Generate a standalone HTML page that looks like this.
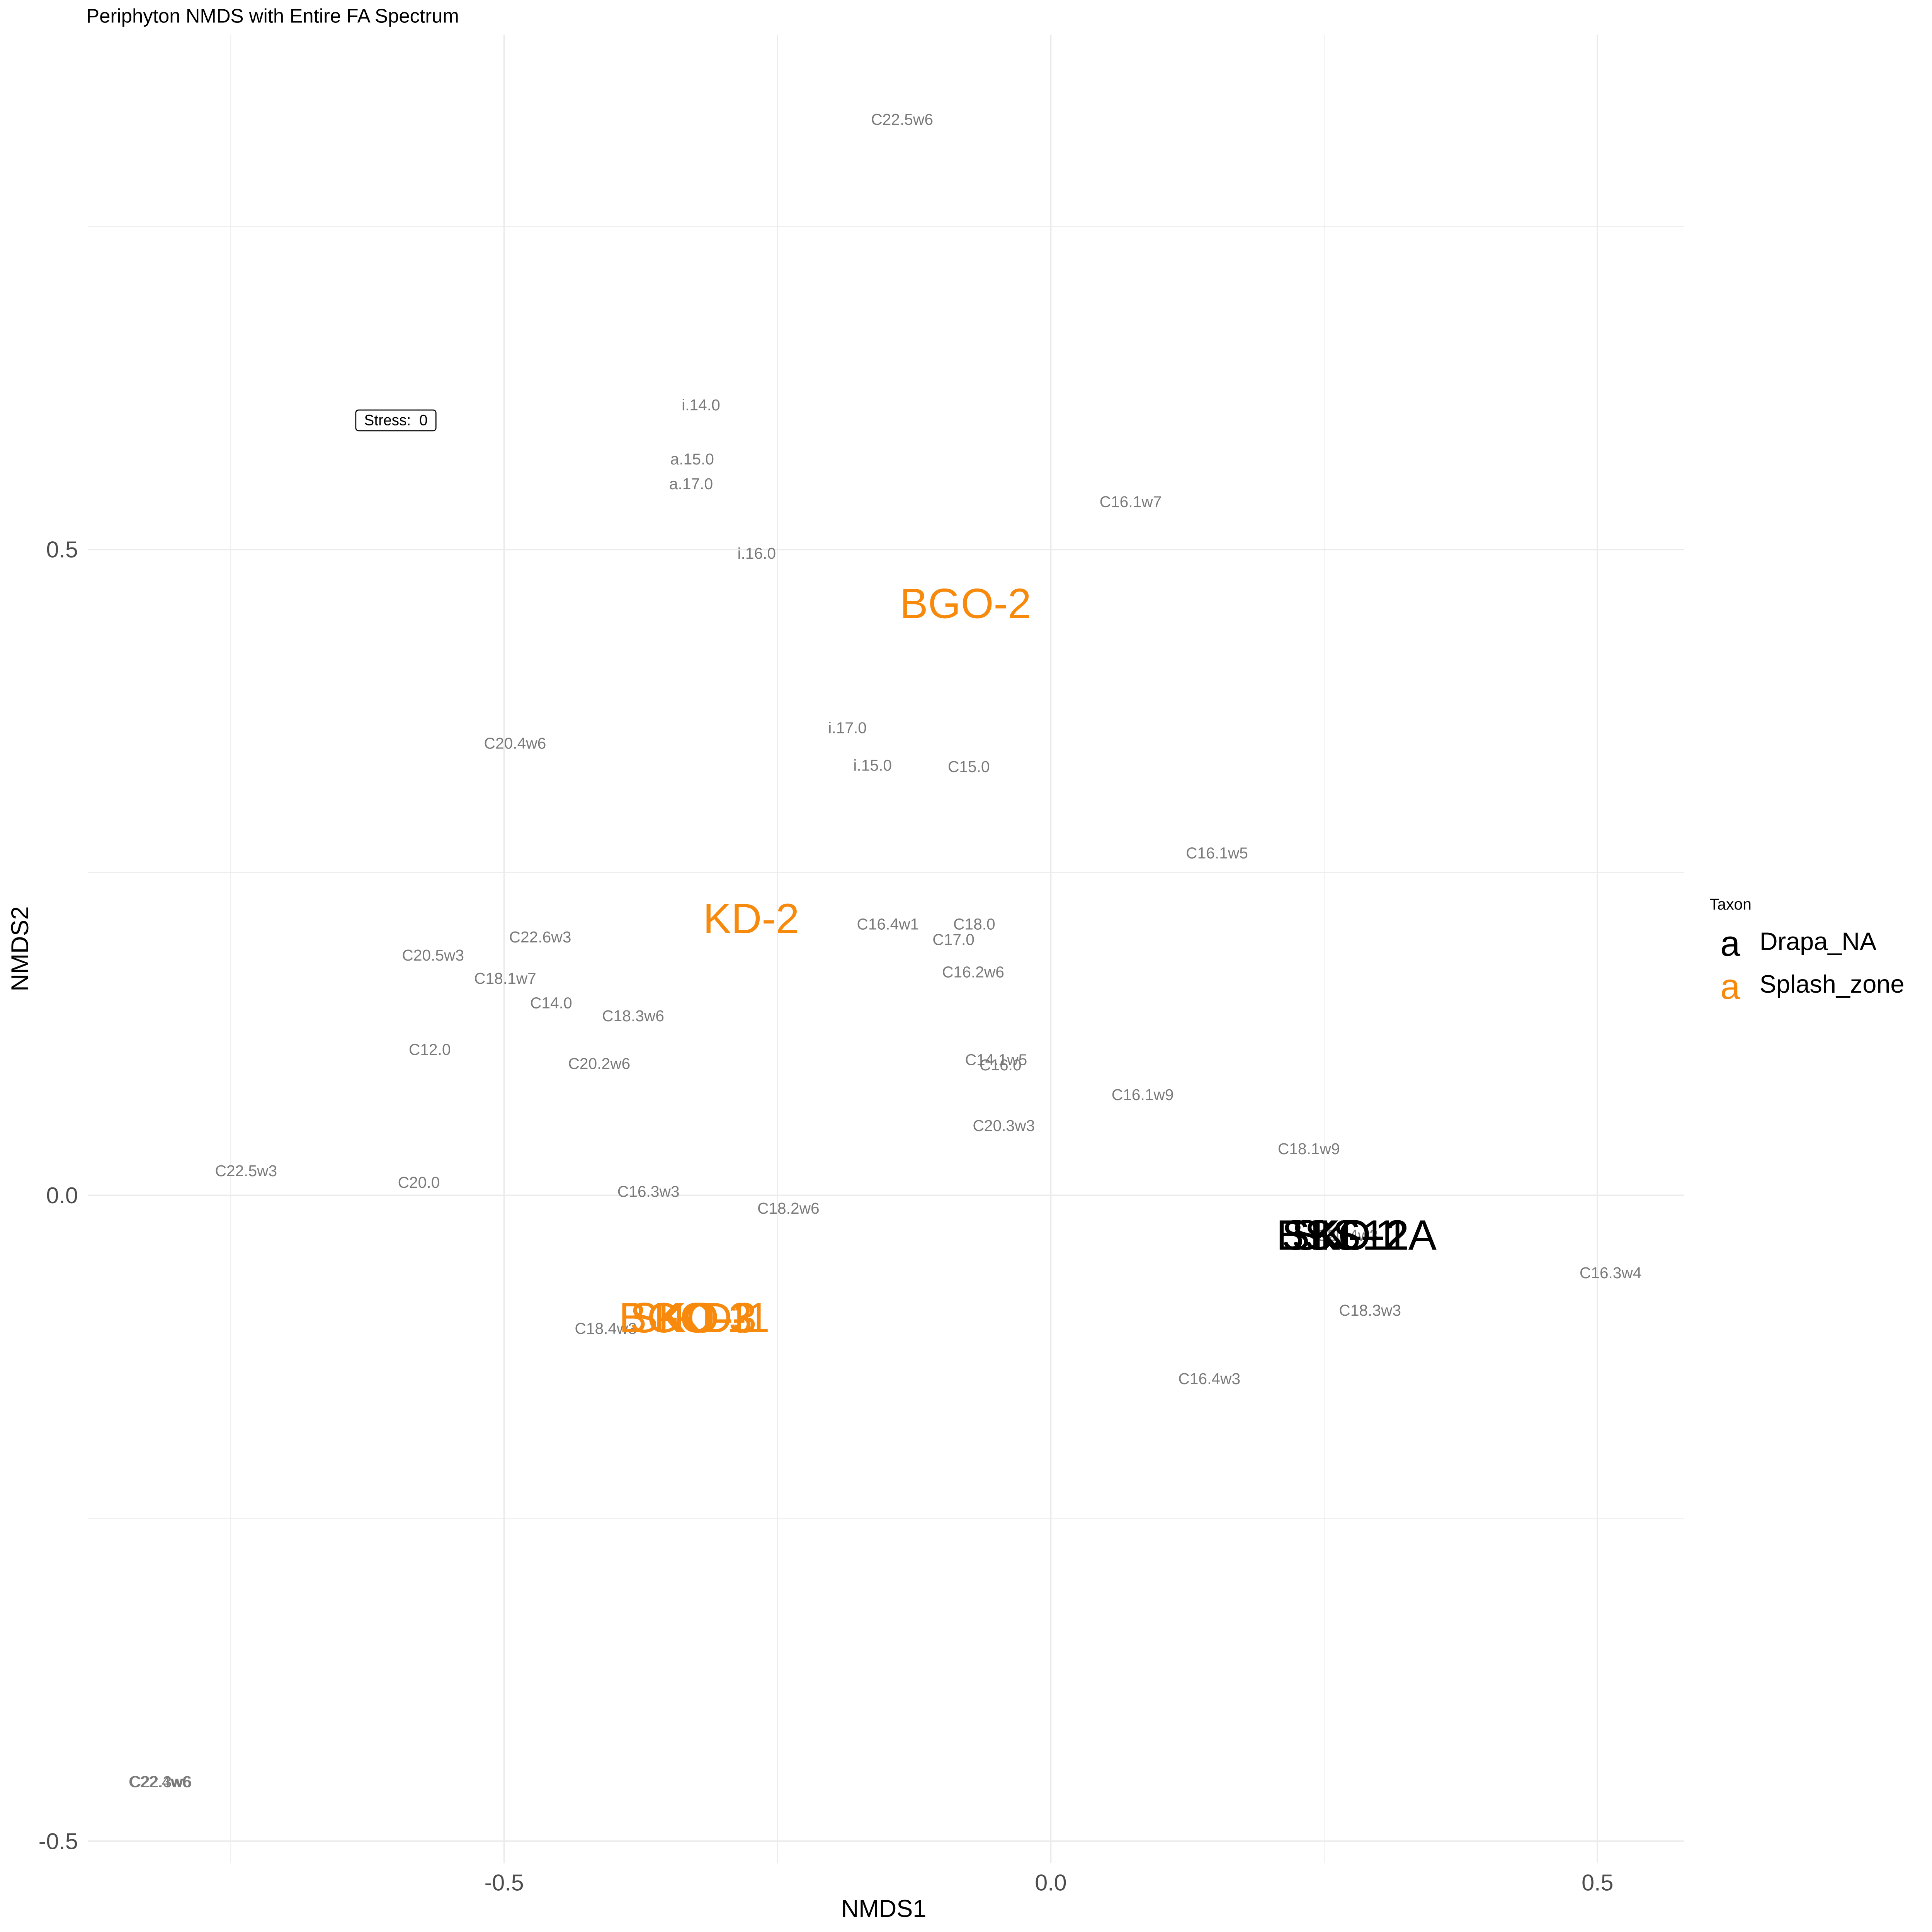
<!DOCTYPE html>
<html><head><meta charset="utf-8"><style>
html,body{margin:0;padding:0;background:#fff;overflow:hidden;width:100%;height:100%;}
svg{display:block;width:100vw;height:100vh;font-family:"Liberation Sans",Arial,sans-serif;}
</style></head><body>
<svg id="chart" viewBox="0 0 5400 5400" preserveAspectRatio="none" xmlns="http://www.w3.org/2000/svg">
<rect width="5400" height="5400" fill="#fff"/>
<text x="241" y="63" font-size="55" fill="#000">Periphyton NMDS with Entire FA Spectrum</text>
<g id="grid"></g>
<g id="ticks"></g>
<g id="fa"></g>
<g id="samples"></g>
<text x="2470" y="5335" font-size="68" text-anchor="middle" dominant-baseline="central" fill="#000">NMDS1</text>
<text transform="translate(56,2652) rotate(-90)" font-size="68" text-anchor="middle" dominant-baseline="central" fill="#000">NMDS2</text>
<g>
<text x="4778" y="2527" font-size="44" dominant-baseline="central" fill="#000">Taxon</text>
<text x="4836" y="2637" font-size="100" text-anchor="middle" dominant-baseline="central" fill="#000">a</text>
<text x="4918" y="2631" font-size="70" dominant-baseline="central" fill="#000">Drapa_NA</text>
<text x="4836" y="2757" font-size="100" text-anchor="middle" dominant-baseline="central" fill="#F7890D">a</text>
<text x="4918" y="2750" font-size="70" dominant-baseline="central" fill="#000">Splash_zone</text>
</g>
</svg>
<script>
const faNames = ["C22.5w6","i.14.0","a.15.0","a.17.0","C16.1w7","i.16.0","i.17.0","C20.4w6","i.15.0","C15.0","C16.1w5","C16.4w1","C18.0","C17.0","C22.6w3","C20.5w3","C18.1w7","C16.2w6","C14.0","C18.3w6","C12.0","C14.1w5","C16.0","C20.2w6","C16.1w9","C20.3w3","C18.1w9","C22.5w3","C20.0","C16.3w3","C18.2w6","C16.3w4","C18.3w3","C18.4w3","C16.4w3","C22.4w6","C22.3w6","C20.4w3"];
const faX = [-0.136,-0.320,-0.328,-0.329,0.073,-0.269,-0.186,-0.490,-0.163,-0.075,0.152,-0.149,-0.070,-0.089,-0.467,-0.565,-0.499,-0.071,-0.457,-0.382,-0.568,-0.050,-0.046,-0.413,0.084,-0.043,0.236,-0.736,-0.578,-0.368,-0.240,0.512,0.292,-0.407,0.145,-0.815,-0.814,0.271];
const faY = [0.833,0.612,0.570,0.551,0.537,0.497,0.362,0.350,0.333,0.332,0.265,0.210,0.210,0.198,0.200,0.186,0.168,0.173,0.149,0.139,0.113,0.105,0.101,0.102,0.078,0.054,0.036,0.019,0.010,0.003,-0.010,-0.060,-0.089,-0.103,-0.142,-0.454,-0.454,-0.031];
const sampleNames = ["BGO-2","KD-2","BGO-1","SKO-3","KO-3","KD-1","BSS-1","SK-12","SKO-2A","KD-1A"];
const sampleX = [-0.078,-0.274,-0.335,-0.327,-0.318,-0.301,0.262,0.274,0.282,0.296];
const sampleY = [0.458,0.214,-0.095,-0.095,-0.095,-0.095,-0.031,-0.031,-0.031,-0.031];
const sampleGroup = ["Splash_zone","Splash_zone","Splash_zone","Splash_zone","Splash_zone","Splash_zone","Drapa_NA","Drapa_NA","Drapa_NA","Drapa_NA"];
const xMajor = [-0.5,0,0.5];
const xMinor = [-0.75,-0.25,0.25];
const yMajor = [-0.5,0,0.5];
const yMinor = [-0.25,0.25,0.75];
const xTickLabels = ["-0.5","0.0","0.5"];
const yTickLabels = ["-0.5","0.0","0.5"];
const stressLabel = "Stress:\u00a0\u00a00";
const stressX = -0.599, stressY = 0.600;

const NS = "http://www.w3.org/2000/svg";
const L = 246, R = 4706, T = 97, B = 5208;
function sx(v){ return 2937 + v*3056; }
function sy(v){ return 3341 - v*3610; }
function mk(tag, parent, attrs){ const e = document.createElementNS(NS, tag); for (const k in attrs) e.setAttribute(k, attrs[k]); parent.appendChild(e); return e; }

const grid = document.getElementById('grid');
xMinor.forEach(v => { const l = mk('line', grid, {x1:sx(v),x2:sx(v),y1:T,y2:B,stroke:'#ebebeb','stroke-width':2});
  
   });
yMinor.forEach(v => { const l = mk('line', grid, {x1:L,x2:R,y1:sy(v),y2:sy(v),stroke:'#ebebeb','stroke-width':2});
  
   });
xMajor.forEach(v => { const l = mk('line', grid, {x1:sx(v),x2:sx(v),y1:T,y2:B,stroke:'#ebebeb','stroke-width':4});
  
   });
yMajor.forEach(v => { const l = mk('line', grid, {x1:L,x2:R,y1:sy(v),y2:sy(v),stroke:'#ebebeb','stroke-width':4});
  
   });

const ticks = document.getElementById('ticks');
xMajor.forEach((v,i) => { const t = mk('text', ticks, {x:sx(v), y:5262, 'font-size':64, 'text-anchor':'middle', 'dominant-baseline':'central', fill:'#4d4d4d'});
  t.textContent = xTickLabels[i];
  
   });
yMajor.forEach((v,i) => { const t = mk('text', ticks, {x:218, y:sy(v), 'font-size':64, 'text-anchor':'end', 'dominant-baseline':'central', fill:'#4d4d4d'});
  t.textContent = yTickLabels[i];
  
   });

const fa = document.getElementById('fa');
faNames.forEach((n,i) => { const t = mk('text', fa, {x:sx(faX[i]), y:sy(faY[i]), 'font-size':44, 'text-anchor':'middle', 'dominant-baseline':'central', fill:'#7a7a7a'});
  t.textContent = n;
  
   });

const st = mk('g', fa, {});


mk('rect', st, {x:sx(stressX)-112, y:sy(stressY)-29, width:224, height:58, rx:8, fill:'#fff', stroke:'#000', 'stroke-width':3});
const stt = mk('text', st, {x:sx(stressX), y:sy(stressY), 'font-size':42, 'text-anchor':'middle', 'dominant-baseline':'central', fill:'#000'});
stt.textContent = stressLabel;

const samples = document.getElementById('samples');
sampleNames.forEach((n,i) => { const t = mk('text', samples, {x:sx(sampleX[i]), y:sy(sampleY[i]), 'font-size':118, 'text-anchor':'middle', 'dominant-baseline':'central', fill: sampleGroup[i]==='Drapa_NA' ? '#000' : '#F7890D'});
  t.textContent = n;
  
   });
</script>
</body></html>
